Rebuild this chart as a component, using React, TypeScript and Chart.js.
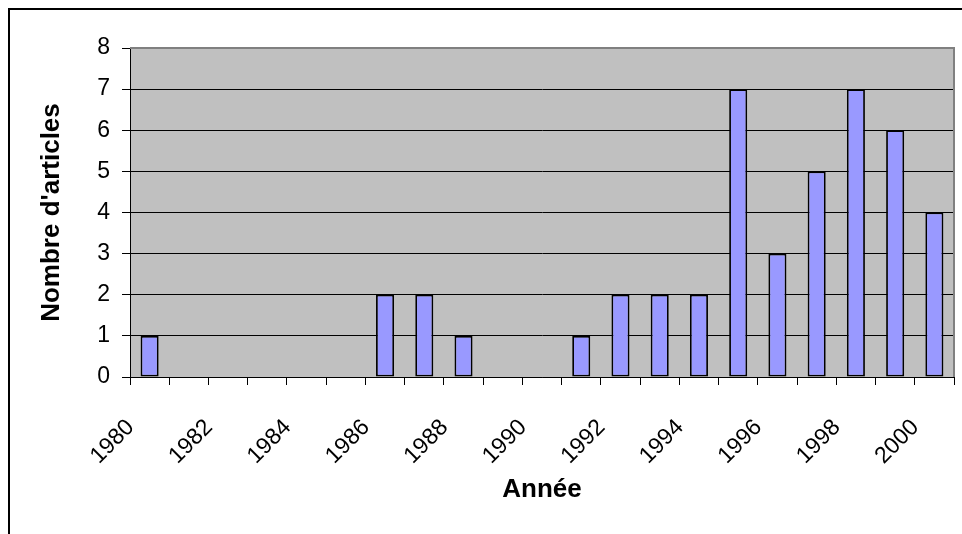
import React, { useEffect, useRef } from "react";
import { Chart, registerables } from "chart.js";

Chart.register(...registerables);

const years = [
  "1980", "1981", "1982", "1983", "1984", "1985", "1986", "1987", "1988", "1989", "1990",
  "1991", "1992", "1993", "1994", "1995", "1996", "1997", "1998", "1999", "2000",
];
const articles = [1, 0, 0, 0, 0, 0, 2, 2, 1, 0, 0, 1, 2, 2, 2, 7, 3, 5, 7, 6, 4];
const yMin = 0;
const yMax = 8;
const yStep = 1;
const xTitle = "Année";
const yTitle = "Nombre d'articles";

const FONT = "'Liberation Sans', Arial, Helvetica, sans-serif";

const plotFrame = {
  id: "plotFrame",
  beforeDraw(chart: any) {
    const { ctx, chartArea } = chart;
    const { left, top, width, height } = chartArea;
    ctx.save();
    ctx.fillStyle = "#C0C0C0";
    ctx.fillRect(left, top, width, height);
    ctx.restore();
  },
  afterDraw(chart: any) {
    const { ctx, chartArea } = chart;
    const { left, top, right, bottom } = chartArea;
    ctx.save();
    ctx.strokeStyle = "#808080";
    ctx.lineWidth = 2;
    ctx.beginPath();
    ctx.moveTo(left, top);
    ctx.lineTo(right, top);
    ctx.lineTo(right, bottom);
    ctx.stroke();
    ctx.restore();
  },
};

export default function App() {
  const canvasRef = useRef<HTMLCanvasElement | null>(null);

  useEffect(() => {
    if (!canvasRef.current) return;
    const chart = new Chart(canvasRef.current, {
      type: "bar",
      data: {
        labels: years,
        datasets: [
          {
            data: articles,
            backgroundColor: "#9999FF",
            borderColor: "#000000",
            borderWidth: 1.8,
            borderSkipped: false,
            barPercentage: 0.46,
            categoryPercentage: 1,
          },
        ],
      },
      options: {
        animation: false,
        responsive: false,
        maintainAspectRatio: false,
        layout: { padding: { left: 10, right: 8, top: 48, bottom: 19 } },
        plugins: {
          legend: { display: false },
          tooltip: { enabled: false },
        },
        scales: {
          x: {
            type: "category",
            offset: true,
            afterFit: (s: any) => {
              s.height = 138;
              s.paddingLeft = 0;
              s.paddingRight = 0;
            },
            grid: {
              offset: true,
              drawOnChartArea: false,
              drawTicks: true,
              tickLength: 8,
              color: "#000000",
              tickColor: "#000000",
              lineWidth: 1,
            },
            border: { display: true, color: "#000000", width: 1 },
            ticks: {
              autoSkip: false,
              minRotation: 45,
              maxRotation: 45,
              padding: 29,
              labelOffset: -19,
              color: "#000000",
              font: { family: FONT, size: 23 },
              callback: (_v: any, i: number) => (i % 2 === 0 ? years[i] : ""),
            },
            title: {
              display: true,
              text: xTitle,
              color: "#000000",
              font: { family: FONT, size: 26, weight: "bold" },
              padding: { top: 18, bottom: 10 },
            },
          },
          y: {
            min: yMin,
            max: yMax,
            afterFit: (s: any) => {
              s.width = 120;
            },
            ticks: {
              stepSize: yStep,
              padding: 12,
              color: "#000000",
              font: { family: FONT, size: 23 },
            },
            grid: {
              color: (ctx: any) => (ctx.tick && ctx.tick.value === yMax ? "#808080" : "#000000"),
              tickColor: "#000000",
              tickLength: 8,
              lineWidth: 1,
            },
            border: { display: true, color: "#000000", width: 1 },
            title: {
              display: true,
              text: yTitle,
              color: "#000000",
              font: { family: FONT, size: 26, weight: "bold" },
              padding: { top: 26, bottom: 30 },
            },
          },
        },
      },
      plugins: [plotFrame],
    });
    return () => chart.destroy();
  }, []);

  return (
    <>
      <style>{"html,body{overflow:hidden;}"}</style>
      <div
        style={{
          position: "absolute",
          left: 8,
          top: 8,
          width: 1000,
          height: 600,
          border: "2px solid #000",
          boxSizing: "border-box",
        }}
      />
      <div style={{ position: "absolute", left: 0, top: 0, width: 962, height: 534 }}>
        <canvas ref={canvasRef} width={962} height={534} style={{ display: "block", width: 962, height: 534 }} />
      </div>
    </>
  );
}
